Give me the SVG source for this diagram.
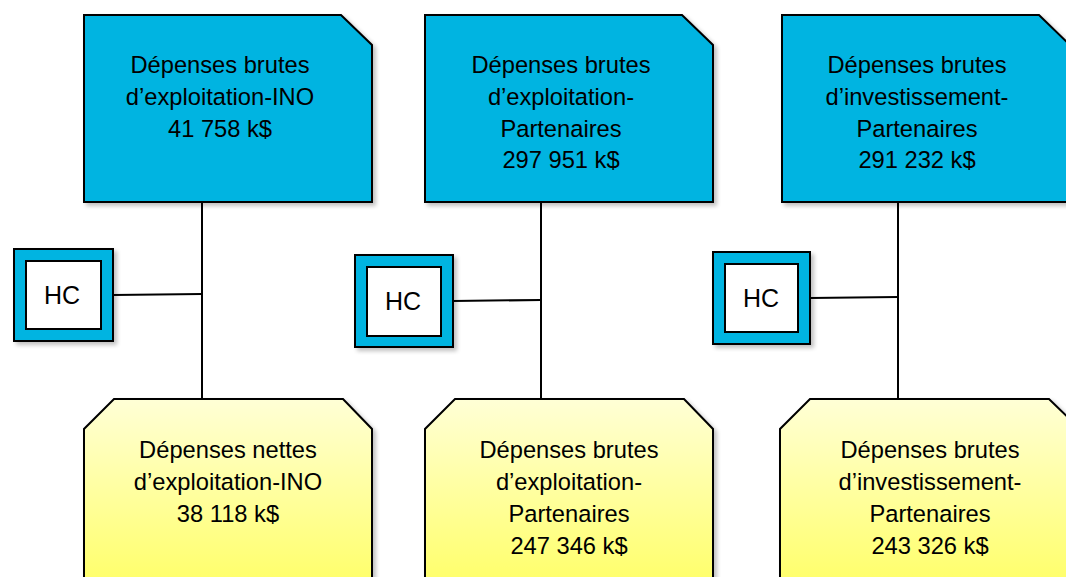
<svg xmlns="http://www.w3.org/2000/svg" width="1066" height="577" viewBox="0 0 1066 577">
<defs>
<linearGradient id="yel" x1="0" y1="0" x2="0" y2="1">
<stop offset="0" stop-color="#FFFFD6"/>
<stop offset="1" stop-color="#FFFF60"/>
</linearGradient>
<filter id="sh" x="-10%" y="-10%" width="130%" height="130%">
<feGaussianBlur in="SourceAlpha" stdDeviation="2"/>
<feOffset dx="3" dy="3"/>
<feComponentTransfer><feFuncA type="linear" slope="0.25"/></feComponentTransfer>
<feMerge><feMergeNode/><feMergeNode in="SourceGraphic"/></feMerge>
</filter>
</defs>
<style>
.top{fill:#00B4E1;stroke:#000;stroke-width:2;filter:url(#sh)}
.bot{fill:url(#yel);stroke:#000;stroke-width:2;filter:url(#sh)}
.hco{fill:#00B4E1;stroke:#000;stroke-width:2;filter:url(#sh)}
.hci{fill:#fff;stroke:#000;stroke-width:2}
.t{font-family:"Liberation Sans",Arial,sans-serif;font-size:23.7px;fill:#000;text-anchor:middle}
.hc{font-family:"Liberation Sans",Arial,sans-serif;font-size:25px;fill:#000;text-anchor:middle}
.c{stroke:#000;stroke-width:2;fill:none}
</style>
<g id="connectors">
<line class="c" x1="202" y1="202" x2="202" y2="399"/>
<line class="c" x1="113" y1="295" x2="202" y2="294"/>
<line class="c" x1="541" y1="202" x2="541" y2="399"/>
<line class="c" x1="453" y1="301" x2="541" y2="300"/>
<line class="c" x1="898" y1="202" x2="898" y2="399"/>
<line class="c" x1="810" y1="298" x2="898" y2="297"/>
</g>
<g id="top1">
<path class="top" d="M84 15 H341 L372 45 V202 H84 Z"/>
<text class="t" x="220" y="73">Dépenses brutes</text>
<text class="t" x="220" y="105">d’exploitation-INO</text>
<text class="t" x="220" y="137">41 758 k$</text>
</g>
<g id="top2">
<path class="top" d="M425 15 H682 L713 45 V202 H425 Z"/>
<text class="t" x="561" y="73">Dépenses brutes</text>
<text class="t" x="561" y="105">d’exploitation-</text>
<text class="t" x="561" y="137">Partenaires</text>
<text class="t" x="561" y="168">297 951 k$</text>
</g>
<g id="top3">
<path class="top" d="M782 15 H1039 L1070 45 V202 H782 Z"/>
<text class="t" x="917" y="73">Dépenses brutes</text>
<text class="t" x="917" y="105">d’investissement-</text>
<text class="t" x="917" y="137">Partenaires</text>
<text class="t" x="917" y="168">291 232 k$</text>
</g>
<g id="hc1">
<rect class="hco" x="14" y="249" width="99" height="92"/>
<rect class="hci" x="26" y="261" width="75" height="68"/>
<text class="hc" x="62" y="304">HC</text>
</g>
<g id="hc2">
<rect class="hco" x="355" y="255" width="98" height="92"/>
<rect class="hci" x="367" y="267" width="74" height="69"/>
<text class="hc" x="403" y="310">HC</text>
</g>
<g id="hc3">
<rect class="hco" x="713" y="252" width="97" height="92"/>
<rect class="hci" x="725" y="264" width="73" height="68"/>
<text class="hc" x="761" y="307">HC</text>
</g>
<g id="bot1">
<path class="bot" d="M114 399 H343 L372 429 V600 H84 V429 Z"/>
<text class="t" x="228" y="458">Dépenses nettes</text>
<text class="t" x="228" y="490">d’exploitation-INO</text>
<text class="t" x="228" y="522">38 118 k$</text>
</g>
<g id="bot2">
<path class="bot" d="M455 399 H684 L713 429 V600 H425 V429 Z"/>
<text class="t" x="569" y="458">Dépenses brutes</text>
<text class="t" x="569" y="490">d’exploitation-</text>
<text class="t" x="569" y="522">Partenaires</text>
<text class="t" x="569" y="554">247 346 k$</text>
</g>
<g id="bot3">
<path class="bot" d="M810 399 H1049 L1080 429 V600 H780 V429 Z"/>
<text class="t" x="930" y="458">Dépenses brutes</text>
<text class="t" x="930" y="490">d’investissement-</text>
<text class="t" x="930" y="522">Partenaires</text>
<text class="t" x="930" y="554">243 326 k$</text>
</g>
</svg>
